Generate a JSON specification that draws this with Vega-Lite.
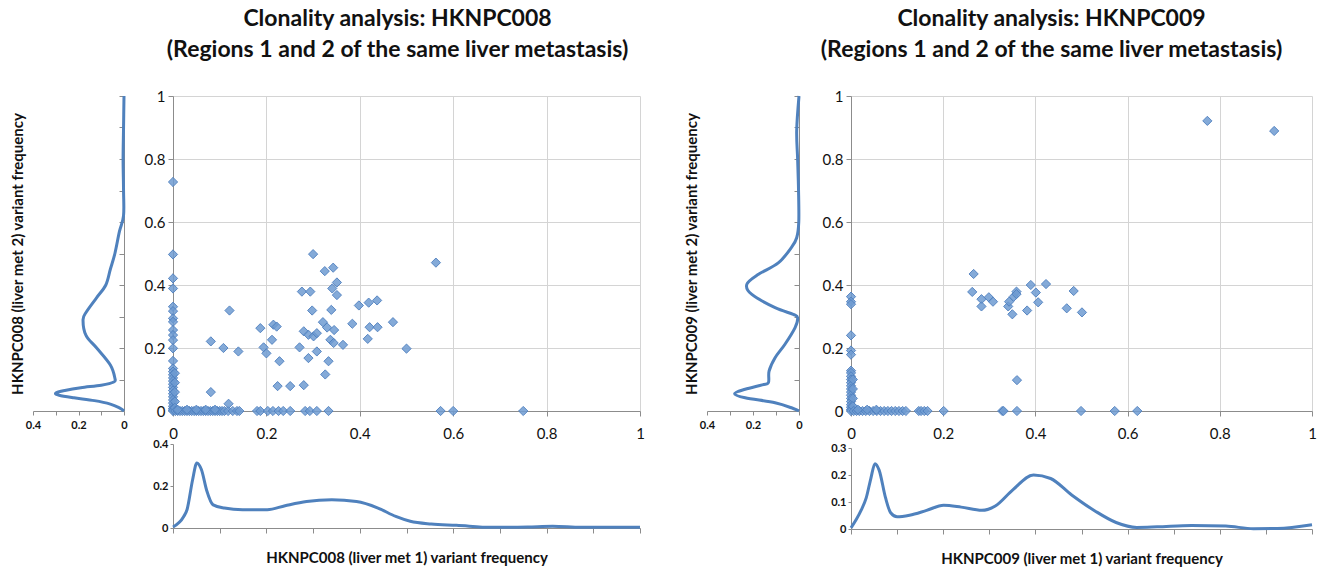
{
  "$schema": "https://vega.github.io/schema/vega-lite/v6.json",
  "background": "white",
  "padding": {"left": 10, "top": 8, "right": 5, "bottom": 5},
  "config": {
    "font": "Lato",
    "view": {"stroke": null},
    "axis": {"labelColor": "#111", "titleColor": "#111", "domainColor": "#8c8c8c", "tickColor": "#8c8c8c", "gridColor": "#d4d4d4", "labelFont": "Lato", "titleFont": "Lato", "labelFlush": false},
    "title": {"font": "Lato", "color": "#111"}
  },
  "datasets": {
    "l8": [
      {"v": 1, "d": 0}, {"v": 0.9, "d": 0.002}, {"v": 0.8, "d": 0.004}, {"v": 0.7, "d": 0.002}, {"v": 0.62, "d": 0.002},
      {"v": 0.57, "d": 0.02}, {"v": 0.5, "d": 0.04}, {"v": 0.45, "d": 0.06}, {"v": 0.4, "d": 0.08}, {"v": 0.36, "d": 0.12},
      {"v": 0.315, "d": 0.165}, {"v": 0.29, "d": 0.18}, {"v": 0.24, "d": 0.167}, {"v": 0.2, "d": 0.12}, {"v": 0.146, "d": 0.06},
      {"v": 0.104, "d": 0.04}, {"v": 0.092, "d": 0.045}, {"v": 0.082, "d": 0.1}, {"v": 0.074, "d": 0.19}, {"v": 0.065, "d": 0.26},
      {"v": 0.057, "d": 0.3}, {"v": 0.05, "d": 0.285}, {"v": 0.042, "d": 0.22}, {"v": 0.033, "d": 0.13}, {"v": 0.022, "d": 0.06},
      {"v": 0.01, "d": 0.02}, {"v": 0, "d": 0}
    ],
    "l9": [
      {"v": 1, "d": 0}, {"v": 0.89, "d": 0.01}, {"v": 0.8, "d": 0.006}, {"v": 0.7, "d": 0.002}, {"v": 0.6, "d": 0.001},
      {"v": 0.55, "d": 0.01}, {"v": 0.52, "d": 0.032}, {"v": 0.47, "d": 0.09}, {"v": 0.434, "d": 0.176}, {"v": 0.402, "d": 0.227},
      {"v": 0.37, "d": 0.205}, {"v": 0.328, "d": 0.104}, {"v": 0.307, "d": 0.025}, {"v": 0.296, "d": 0.006}, {"v": 0.265, "d": 0.017},
      {"v": 0.212, "d": 0.061}, {"v": 0.169, "d": 0.104}, {"v": 0.127, "d": 0.13}, {"v": 0.09, "d": 0.133}, {"v": 0.083, "d": 0.16},
      {"v": 0.069, "d": 0.234}, {"v": 0.055, "d": 0.28}, {"v": 0.042, "d": 0.234}, {"v": 0.026, "d": 0.104}, {"v": 0.008, "d": 0.025},
      {"v": 0, "d": 0}
    ],
    "b8": [
      {"x": 0, "d": 0.005}, {"x": 0.023, "d": 0.055}, {"x": 0.03, "d": 0.087}, {"x": 0.042, "d": 0.23}, {"x": 0.051, "d": 0.31},
      {"x": 0.061, "d": 0.277}, {"x": 0.072, "d": 0.18}, {"x": 0.086, "d": 0.11}, {"x": 0.11, "d": 0.095}, {"x": 0.149, "d": 0.087},
      {"x": 0.202, "d": 0.087}, {"x": 0.24, "d": 0.106}, {"x": 0.286, "d": 0.126}, {"x": 0.34, "d": 0.134}, {"x": 0.393, "d": 0.126},
      {"x": 0.439, "d": 0.095}, {"x": 0.477, "d": 0.055}, {"x": 0.508, "d": 0.032}, {"x": 0.553, "d": 0.019}, {"x": 0.607, "d": 0.013},
      {"x": 0.683, "d": 0.003}, {"x": 0.76, "d": 0.005}, {"x": 0.813, "d": 0.008}, {"x": 0.874, "d": 0.003}, {"x": 1, "d": 0.003}
    ],
    "b9": [
      {"x": 0, "d": 0.004}, {"x": 0.021, "d": 0.066}, {"x": 0.033, "d": 0.115}, {"x": 0.043, "d": 0.187}, {"x": 0.052, "d": 0.242},
      {"x": 0.061, "d": 0.218}, {"x": 0.075, "d": 0.115}, {"x": 0.086, "d": 0.06}, {"x": 0.1, "d": 0.045}, {"x": 0.127, "d": 0.051},
      {"x": 0.164, "d": 0.069}, {"x": 0.201, "d": 0.088}, {"x": 0.239, "d": 0.081}, {"x": 0.284, "d": 0.069}, {"x": 0.313, "d": 0.085},
      {"x": 0.351, "d": 0.145}, {"x": 0.396, "d": 0.2}, {"x": 0.433, "d": 0.187}, {"x": 0.478, "d": 0.127}, {"x": 0.53, "d": 0.066},
      {"x": 0.575, "d": 0.024}, {"x": 0.62, "d": 0.006}, {"x": 0.664, "d": 0.008}, {"x": 0.739, "d": 0.013}, {"x": 0.813, "d": 0.011},
      {"x": 0.873, "d": 0.001}, {"x": 0.925, "d": 0.002}, {"x": 1, "d": 0.016}
    ],
    "s8": [
      {"x": 0, "y": 0.727}, {"x": 0, "y": 0.497}, {"x": 0, "y": 0.421}, {"x": 0, "y": 0.389}, {"x": 0, "y": 0.331}, {"x": 0, "y": 0.317},
      {"x": 0, "y": 0.294}, {"x": 0, "y": 0.283}, {"x": 0, "y": 0.257}, {"x": 0, "y": 0.241}, {"x": 0, "y": 0.225}, {"x": 0, "y": 0.199},
      {"x": 0, "y": 0.159}, {"x": 0, "y": 0.135}, {"x": 0, "y": 0.125}, {"x": 0, "y": 0.115}, {"x": 0, "y": 0.105}, {"x": 0, "y": 0.095},
      {"x": 0, "y": 0.085}, {"x": 0, "y": 0.075}, {"x": 0, "y": 0.065}, {"x": 0, "y": 0.055}, {"x": 0, "y": 0.045}, {"x": 0, "y": 0.035},
      {"x": 0, "y": 0.025}, {"x": 0, "y": 0.015}, {"x": 0, "y": 0.008}, {"x": 0, "y": 0.003}, {"x": 0, "y": 0},
      {"x": 0.004, "y": 0.12}, {"x": 0.004, "y": 0.09}, {"x": 0.004, "y": 0.06}, {"x": 0.004, "y": 0.03}, {"x": 0.004, "y": 0.01},
      {"x": 0.005, "y": 0}, {"x": 0.01, "y": 0}, {"x": 0.015, "y": 0}, {"x": 0.02, "y": 0}, {"x": 0.025, "y": 0}, {"x": 0.03, "y": 0},
      {"x": 0.035, "y": 0}, {"x": 0.04, "y": 0}, {"x": 0.045, "y": 0}, {"x": 0.05, "y": 0}, {"x": 0.055, "y": 0}, {"x": 0.06, "y": 0},
      {"x": 0.065, "y": 0}, {"x": 0.07, "y": 0}, {"x": 0.075, "y": 0}, {"x": 0.08, "y": 0}, {"x": 0.085, "y": 0}, {"x": 0.09, "y": 0},
      {"x": 0.095, "y": 0}, {"x": 0.1, "y": 0}, {"x": 0.105, "y": 0}, {"x": 0.11, "y": 0}, {"x": 0.118, "y": 0}, {"x": 0.128, "y": 0},
      {"x": 0.137, "y": 0}, {"x": 0.142, "y": 0}, {"x": 0.18, "y": 0}, {"x": 0.187, "y": 0}, {"x": 0.203, "y": 0}, {"x": 0.214, "y": 0},
      {"x": 0.226, "y": 0}, {"x": 0.236, "y": 0}, {"x": 0.251, "y": 0}, {"x": 0.283, "y": 0}, {"x": 0.293, "y": 0}, {"x": 0.308, "y": 0},
      {"x": 0.333, "y": 0}, {"x": 0.573, "y": 0}, {"x": 0.6, "y": 0}, {"x": 0.75, "y": 0},
      {"x": 0.01, "y": 0.004}, {"x": 0.03, "y": 0.004}, {"x": 0.05, "y": 0.004}, {"x": 0.07, "y": 0.004}, {"x": 0.09, "y": 0.004},
      {"x": 0.081, "y": 0.221}, {"x": 0.081, "y": 0.06}, {"x": 0.108, "y": 0.2}, {"x": 0.121, "y": 0.319}, {"x": 0.119, "y": 0.023},
      {"x": 0.14, "y": 0.189}, {"x": 0.187, "y": 0.263}, {"x": 0.194, "y": 0.202}, {"x": 0.2, "y": 0.183}, {"x": 0.212, "y": 0.226},
      {"x": 0.215, "y": 0.274}, {"x": 0.222, "y": 0.268}, {"x": 0.228, "y": 0.158}, {"x": 0.224, "y": 0.079}, {"x": 0.251, "y": 0.079},
      {"x": 0.28, "y": 0.082}, {"x": 0.271, "y": 0.202}, {"x": 0.276, "y": 0.379}, {"x": 0.294, "y": 0.379}, {"x": 0.3, "y": 0.498},
      {"x": 0.298, "y": 0.319}, {"x": 0.28, "y": 0.253}, {"x": 0.29, "y": 0.242}, {"x": 0.301, "y": 0.237}, {"x": 0.308, "y": 0.247},
      {"x": 0.29, "y": 0.168}, {"x": 0.308, "y": 0.189}, {"x": 0.321, "y": 0.282}, {"x": 0.325, "y": 0.444}, {"x": 0.343, "y": 0.455},
      {"x": 0.33, "y": 0.265}, {"x": 0.333, "y": 0.158}, {"x": 0.326, "y": 0.116}, {"x": 0.337, "y": 0.226}, {"x": 0.339, "y": 0.321},
      {"x": 0.341, "y": 0.389}, {"x": 0.351, "y": 0.408}, {"x": 0.351, "y": 0.368}, {"x": 0.345, "y": 0.257}, {"x": 0.344, "y": 0.216},
      {"x": 0.364, "y": 0.21}, {"x": 0.384, "y": 0.277}, {"x": 0.398, "y": 0.335}, {"x": 0.419, "y": 0.344}, {"x": 0.437, "y": 0.351},
      {"x": 0.421, "y": 0.266}, {"x": 0.438, "y": 0.266}, {"x": 0.417, "y": 0.229}, {"x": 0.471, "y": 0.282}, {"x": 0.5, "y": 0.198},
      {"x": 0.563, "y": 0.471}
    ],
    "s9": [
      {"x": 0, "y": 0.363}, {"x": 0, "y": 0.347}, {"x": 0, "y": 0.339}, {"x": 0, "y": 0.24}, {"x": 0, "y": 0.192}, {"x": 0, "y": 0.179},
      {"x": 0, "y": 0.128}, {"x": 0, "y": 0.121}, {"x": 0, "y": 0.11}, {"x": 0, "y": 0.1}, {"x": 0, "y": 0.09}, {"x": 0, "y": 0.08},
      {"x": 0, "y": 0.07}, {"x": 0, "y": 0.06}, {"x": 0, "y": 0.05}, {"x": 0, "y": 0.04}, {"x": 0, "y": 0.03}, {"x": 0, "y": 0.02},
      {"x": 0, "y": 0.012}, {"x": 0, "y": 0.005}, {"x": 0, "y": 0},
      {"x": 0.004, "y": 0.1}, {"x": 0.004, "y": 0.07}, {"x": 0.004, "y": 0.04}, {"x": 0.004, "y": 0.015},
      {"x": 0.006, "y": 0}, {"x": 0.012, "y": 0}, {"x": 0.018, "y": 0}, {"x": 0.025, "y": 0}, {"x": 0.032, "y": 0}, {"x": 0.04, "y": 0},
      {"x": 0.048, "y": 0}, {"x": 0.056, "y": 0}, {"x": 0.064, "y": 0}, {"x": 0.072, "y": 0}, {"x": 0.08, "y": 0}, {"x": 0.088, "y": 0},
      {"x": 0.096, "y": 0}, {"x": 0.104, "y": 0}, {"x": 0.112, "y": 0}, {"x": 0.119, "y": 0},
      {"x": 0.147, "y": 0}, {"x": 0.152, "y": 0}, {"x": 0.159, "y": 0}, {"x": 0.166, "y": 0}, {"x": 0.201, "y": 0}, {"x": 0.328, "y": 0},
      {"x": 0.331, "y": 0}, {"x": 0.36, "y": 0}, {"x": 0.499, "y": 0}, {"x": 0.572, "y": 0}, {"x": 0.621, "y": 0},
      {"x": 0.015, "y": 0.004}, {"x": 0.035, "y": 0.004}, {"x": 0.055, "y": 0.004},
      {"x": 0.266, "y": 0.435}, {"x": 0.263, "y": 0.378}, {"x": 0.283, "y": 0.355}, {"x": 0.283, "y": 0.332}, {"x": 0.299, "y": 0.361},
      {"x": 0.308, "y": 0.347}, {"x": 0.341, "y": 0.332}, {"x": 0.343, "y": 0.347}, {"x": 0.35, "y": 0.307}, {"x": 0.353, "y": 0.363},
      {"x": 0.359, "y": 0.379}, {"x": 0.359, "y": 0.371}, {"x": 0.382, "y": 0.319}, {"x": 0.39, "y": 0.4}, {"x": 0.401, "y": 0.376},
      {"x": 0.406, "y": 0.345}, {"x": 0.423, "y": 0.403}, {"x": 0.468, "y": 0.326}, {"x": 0.483, "y": 0.381}, {"x": 0.501, "y": 0.313},
      {"x": 0.36, "y": 0.098}, {"x": 0.773, "y": 0.921}, {"x": 0.918, "y": 0.889}
    ]
  },
  "spacing": 38,
  "hconcat": [
    {
      "bounds": "flush",
      "columns": 2,
      "spacing": {"column": 49, "row": 33},
      "concat": [
        {
          "width": 91, "height": 315,
          "data": {"name": "l8"},
          "encoding": {
            "x": {"field": "d", "type": "quantitative", "scale": {"domain": [0, 0.4], "reverse": true},
              "axis": {"values": [0, 0.1, 0.2, 0.3, 0.4], "labelExpr": "datum.value == 0.4 ? '0.4' : datum.value == 0.2 ? '0.2' : datum.value == 0 ? '0' : ''", "grid": false, "title": null, "tickSize": 4, "labelFontSize": 11, "labelFontWeight": "bold", "labelPadding": 4}}
          },
          "layer": [
            {
              "mark": {"type": "point", "opacity": 0},
              "encoding": {"y": {"field": "v", "type": "quantitative", "scale": {"domain": [0, 1]},
                "axis": {"orient": "left", "domain": false, "ticks": false, "labels": false, "grid": false, "title": "HKNPC008 (liver met 2) variant frequency", "titleFontSize": 15, "titleFontWeight": "bold", "titlePadding": 8}}}
            },
            {
              "mark": {"type": "line", "interpolate": "cardinal", "strokeWidth": 3, "color": "#4f81bd"},
              "encoding": {
                "y": {"field": "v", "type": "quantitative", "scale": {"domain": [0, 1]},
                  "axis": {"orient": "right", "values": [0, 0.1, 0.2, 0.3, 0.4, 0.5, 0.6, 0.7, 0.8, 0.9, 1], "labels": false, "grid": false, "title": null, "tickSize": -5}},
                "order": {"field": "v", "type": "quantitative"}
              }
            }
          ],
          "resolve": {"axis": {"y": "independent"}}
        },
        {
          "width": 467, "height": 315,
          "data": {"name": "s8"},
          "title": {"text": ["Clonality analysis: HKNPC008", "(Regions 1 and 2 of the same liver metastasis)"], "fontSize": 23, "fontWeight": "bold", "anchor": "middle", "offset": 27, "lineHeight": 31, "dx": -9},
          "mark": {"type": "point", "shape": "diamond", "filled": true, "size": 85, "fill": "#6f9bd1", "fillOpacity": 0.85, "stroke": "#4f7fbf", "strokeWidth": 1, "strokeOpacity": 0.9},
          "encoding": {
            "x": {"field": "x", "type": "quantitative", "scale": {"domain": [0, 1]},
              "axis": {"values": [0, 0.2, 0.4, 0.6, 0.8, 1], "format": "~g", "title": null, "labelFontSize": 15, "labelPadding": 10, "tickSize": 5}},
            "y": {"field": "y", "type": "quantitative", "scale": {"domain": [0, 1]},
              "axis": {"values": [0, 0.2, 0.4, 0.6, 0.8, 1], "format": "~g", "title": null, "labelFontSize": 15, "labelPadding": 3, "tickSize": 5}}
          }
        },
        {"width": 91, "height": 84, "data": {"values": []}, "mark": "point"},
        {
          "width": 467, "height": 84,
          "data": {"name": "b8"},
          "mark": {"type": "line", "interpolate": "monotone", "strokeWidth": 3, "color": "#4f81bd"},
          "encoding": {
            "x": {"field": "x", "type": "quantitative", "scale": {"domain": [0, 1]},
              "axis": {"values": [0, 0.1, 0.2, 0.3, 0.4, 0.5, 0.6, 0.7, 0.8, 0.9, 1], "labels": false, "grid": false, "tickSize": 5, "title": "HKNPC008 (liver met 1) variant frequency", "titleFontSize": 15, "titleFontWeight": "bold", "titlePadding": 17}},
            "y": {"field": "d", "type": "quantitative", "scale": {"domain": [0, 0.4]},
              "axis": {"values": [0, 0.2, 0.4], "format": "~g", "grid": false, "title": null, "labelFontSize": 11, "labelFontWeight": "bold", "tickSize": 3}}
          }
        }
      ]
    },
    {
      "bounds": "flush",
      "columns": 2,
      "spacing": {"column": 52, "row": 37},
      "concat": [
        {
          "width": 92, "height": 315,
          "data": {"name": "l9"},
          "encoding": {
            "x": {"field": "d", "type": "quantitative", "scale": {"domain": [0, 0.4], "reverse": true},
              "axis": {"values": [0, 0.1, 0.2, 0.3, 0.4], "labelExpr": "datum.value == 0.4 ? '0.4' : datum.value == 0.2 ? '0.2' : datum.value == 0 ? '0' : ''", "grid": false, "title": null, "tickSize": 4, "labelFontSize": 11, "labelFontWeight": "bold", "labelPadding": 4}}
          },
          "layer": [
            {
              "mark": {"type": "point", "opacity": 0},
              "encoding": {"y": {"field": "v", "type": "quantitative", "scale": {"domain": [0, 1]},
                "axis": {"orient": "left", "domain": false, "ticks": false, "labels": false, "grid": false, "title": "HKNPC009 (liver met 2) variant frequency", "titleFontSize": 15, "titleFontWeight": "bold", "titlePadding": 8}}}
            },
            {
              "mark": {"type": "line", "interpolate": "cardinal", "strokeWidth": 3, "color": "#4f81bd"},
              "encoding": {
                "y": {"field": "v", "type": "quantitative", "scale": {"domain": [0, 1]},
                  "axis": {"orient": "right", "values": [0, 0.1, 0.2, 0.3, 0.4, 0.5, 0.6, 0.7, 0.8, 0.9, 1], "labels": false, "grid": false, "title": null, "tickSize": -5}},
                "order": {"field": "v", "type": "quantitative"}
              }
            }
          ],
          "resolve": {"axis": {"y": "independent"}}
        },
        {
          "width": 461, "height": 315,
          "data": {"name": "s9"},
          "title": {"text": ["Clonality analysis: HKNPC009", "(Regions 1 and 2 of the same liver metastasis)"], "fontSize": 23, "fontWeight": "bold", "anchor": "middle", "offset": 27, "lineHeight": 31, "dx": -30},
          "mark": {"type": "point", "shape": "diamond", "filled": true, "size": 85, "fill": "#6f9bd1", "fillOpacity": 0.85, "stroke": "#4f7fbf", "strokeWidth": 1, "strokeOpacity": 0.9},
          "encoding": {
            "x": {"field": "x", "type": "quantitative", "scale": {"domain": [0, 1]},
              "axis": {"values": [0, 0.2, 0.4, 0.6, 0.8, 1], "format": "~g", "title": null, "labelFontSize": 15, "labelPadding": 10, "tickSize": 5}},
            "y": {"field": "y", "type": "quantitative", "scale": {"domain": [0, 1]},
              "axis": {"values": [0, 0.2, 0.4, 0.6, 0.8, 1], "format": "~g", "title": null, "labelFontSize": 15, "labelPadding": 3, "tickSize": 5}}
          }
        },
        {"width": 92, "height": 81, "data": {"values": []}, "mark": "point"},
        {
          "width": 461, "height": 81,
          "data": {"name": "b9"},
          "mark": {"type": "line", "interpolate": "monotone", "strokeWidth": 3, "color": "#4f81bd"},
          "encoding": {
            "x": {"field": "x", "type": "quantitative", "scale": {"domain": [0, 1]},
              "axis": {"values": [0, 0.1, 0.2, 0.3, 0.4, 0.5, 0.6, 0.7, 0.8, 0.9, 1], "labels": false, "grid": false, "tickSize": 5, "title": "HKNPC009 (liver met 1) variant frequency", "titleFontSize": 15, "titleFontWeight": "bold", "titlePadding": 17}},
            "y": {"field": "d", "type": "quantitative", "scale": {"domain": [0, 0.3]},
              "axis": {"values": [0, 0.1, 0.2, 0.3], "format": "~g", "grid": false, "title": null, "labelFontSize": 11, "labelFontWeight": "bold", "tickSize": 3}}
          }
        }
      ]
    }
  ]
}
